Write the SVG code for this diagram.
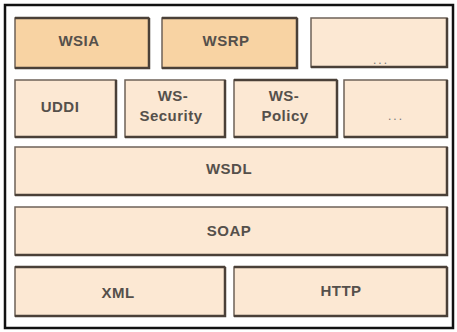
<svg xmlns="http://www.w3.org/2000/svg" width="457" height="332" viewBox="0 0 457 332">
<style>
.b rect.f{stroke:#6e6258;stroke-width:1.5}
.top rect.f{fill:#f8d3a3}
.lo rect.f{fill:#fce8d3}
.sh{fill:none;stroke:#4a4038;stroke-width:2.5}
text{font-family:"Liberation Sans",Arial,sans-serif;font-size:15px;font-weight:bold;letter-spacing:0.5px;fill:#55504b;text-anchor:middle}
text.d{font-size:12px;font-weight:normal;letter-spacing:2px;fill:#777}
</style>
<rect x="0" y="0" width="457" height="332" fill="#fff"/>
<rect x="5" y="5" width="448" height="323" fill="#fff" stroke="#111" stroke-width="2.5"/>
<g id="wsia" class="b top"><rect class="f" x="15" y="18" width="134" height="50"/><path class="sh" d="M15,18H149M149,18V68H15"/><text x="79" y="46">WSIA</text></g>
<g id="wsrp" class="b top"><rect class="f" x="162" y="18" width="135" height="50"/><path class="sh" d="M162,18H297M297,18V68H162"/><text x="226" y="46">WSRP</text></g>
<g id="etc1" class="b lo"><rect class="f" x="311" y="18" width="136" height="49"/><path class="sh" d="M447,18V67H311"/><text class="d" x="381" y="64">...</text></g>
<g id="uddi" class="b lo"><rect class="f" x="15" y="80" width="101" height="57"/><path class="sh" d="M116,80V137H15"/><text x="60" y="112">UDDI</text></g>
<g id="wssec" class="b lo"><rect class="f" x="125" y="80" width="100" height="57"/><path class="sh" d="M225,80V137H125"/><text x="173" y="101">WS-</text><text x="171" y="121">Security</text></g>
<g id="wspol" class="b lo"><rect class="f" x="234" y="80" width="103" height="57"/><path class="sh" d="M234,80H337M337,80V137H234"/><text x="284" y="101">WS-</text><text x="285" y="121">Policy</text></g>
<g id="etc2" class="b lo"><rect class="f" x="344" y="80" width="103" height="57"/><path class="sh" d="M447,80V137H344"/><text class="d" x="396" y="120">...</text></g>
<g id="wsdl" class="b lo"><rect class="f" x="15" y="147" width="432" height="48"/><path class="sh" d="M447,147V195H15"/><text x="229" y="174">WSDL</text></g>
<g id="soap" class="b lo"><rect class="f" x="15" y="207" width="432" height="48"/><path class="sh" d="M447,207V255H15"/><text x="229" y="236">SOAP</text></g>
<g id="xml" class="b lo"><rect class="f" x="15" y="267" width="210" height="49"/><path class="sh" d="M15,267H225M225,267V316H15"/><text x="118" y="298">XML</text></g>
<g id="http" class="b lo"><rect class="f" x="234" y="267" width="213" height="49"/><path class="sh" d="M234,267H447M447,267V316H234"/><text x="341" y="296">HTTP</text></g>
<g id="connectors"/>
</svg>
